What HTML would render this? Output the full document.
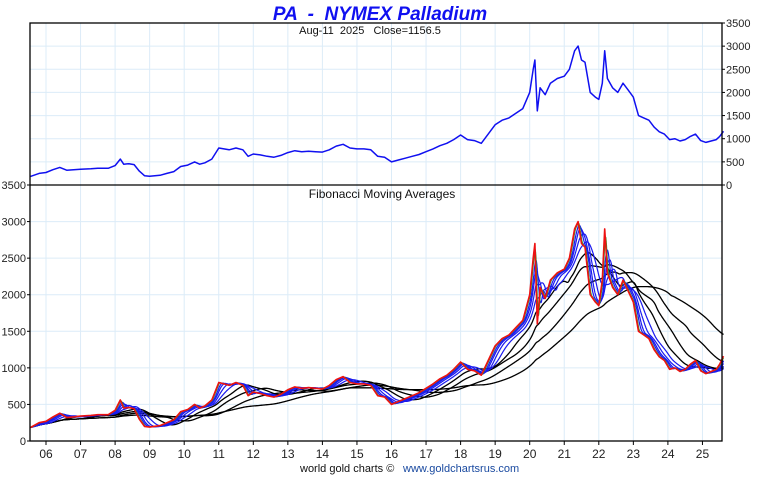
<!DOCTYPE html>
<html><head><meta charset="utf-8"><style>
body{margin:0;background:#fff;width:760px;height:475px;overflow:hidden;font-family:"Liberation Sans",sans-serif}
text{white-space:pre}
</style></head><body>
<svg id="c" width="760" height="475" xmlns="http://www.w3.org/2000/svg" font-family="Liberation Sans, sans-serif"></svg>
<script>
const dates=[2005.55,2005.8,2006.0,2006.2,2006.4,2006.6,2006.8,2007.0,2007.3,2007.5,2007.8,2008.0,2008.15,2008.25,2008.4,2008.55,2008.7,2008.85,2009.0,2009.3,2009.5,2009.7,2009.9,2010.1,2010.3,2010.45,2010.6,2010.8,2011.0,2011.15,2011.3,2011.5,2011.7,2011.85,2012.0,2012.2,2012.4,2012.6,2012.8,2013.0,2013.2,2013.4,2013.6,2013.8,2014.0,2014.2,2014.4,2014.6,2014.8,2015.0,2015.2,2015.4,2015.6,2015.8,2016.0,2016.2,2016.4,2016.6,2016.8,2017.0,2017.2,2017.4,2017.6,2017.8,2018.0,2018.2,2018.4,2018.6,2018.8,2019.0,2019.2,2019.4,2019.6,2019.8,2020.0,2020.1,2020.15,2020.22,2020.3,2020.45,2020.6,2020.8,2021.0,2021.15,2021.3,2021.4,2021.5,2021.6,2021.75,2021.9,2022.0,2022.1,2022.17,2022.25,2022.4,2022.55,2022.7,2022.85,2023.0,2023.15,2023.3,2023.45,2023.6,2023.75,2023.9,2024.05,2024.2,2024.35,2024.5,2024.65,2024.8,2024.95,2025.1,2025.25,2025.4,2025.5,2025.61];
const prices=[185,250,270,330,380,320,330,340,350,360,360,420,560,450,460,440,300,200,190,210,250,290,400,430,500,450,480,560,800,780,760,800,760,620,670,650,620,600,640,700,740,720,730,720,710,760,840,880,800,780,780,760,620,600,500,540,580,620,660,720,780,850,900,980,1080,980,960,900,1100,1300,1400,1450,1550,1650,2000,2500,2700,1600,2100,1950,2200,2300,2350,2500,2900,3000,2700,2650,2000,1900,1850,2200,2900,2300,2100,2000,2200,2050,1900,1500,1450,1400,1250,1150,1100,980,1000,950,980,1050,1100,960,920,950,980,1050,1160];
const yearLabels=["06","07","08","09","10","11","12","13","14","15","16","17","18","19","20","21","22","23","24","25"];
const yTicks=[0,500,1000,1500,2000,2500,3000,3500];
const fibBlue=[34,55,89,144];
const fibBlack=[233,377,610,987];

const NS="http://www.w3.org/2000/svg",svg=document.getElementById('c');
const L=30,R=722,T1=23,B1=185,T2=185,B2=441;
const X=y=>46+(y-2006)*34.55;
const Y1=v=>B1-v*(B1-T1)/3500;
const Y2=v=>B2-v*(B2-T2)/3500;
function el(t,a,txt){const e=document.createElementNS(NS,t);for(const k in a)e.setAttribute(k,a[k]);if(txt!==undefined)e.textContent=txt;svg.appendChild(e);return e;}
yTicks.forEach(v=>{
 if(v>0&&v<3500){let g=el('line',{x1:L,x2:R,y1:Y1(v),y2:Y1(v),stroke:'#dcecf8'});}
 if(v>0){let g=el('line',{x1:L,x2:R,y1:Y2(v),y2:Y2(v),stroke:'#dcecf8'});}
});
yearLabels.forEach((lb,i)=>{
 const x=X(2006+i);
 let g=el('line',{x1:x,x2:x,y1:T1,y2:B2,stroke:'#dcecf8'});
 
 
 let t=el('line',{x1:x,x2:x,y1:B2,y2:B2+4,stroke:'#000'});
 
 
 let tx=el('text',{x:x,y:458,'font-size':12,'text-anchor':'middle',fill:'#222'},lb);
 
 
});
yTicks.forEach(v=>{
 let t=el('text',{x:726,y:Y1(v)+4,'font-size':11,fill:'#222'},String(v));
 
 
 el('line',{x1:R,x2:R+3,y1:Y1(v),y2:Y1(v),stroke:'#000'});
 let t2=el('text',{x:26,y:Y2(v)+4,'font-size':11,'text-anchor':'end',fill:'#222'},String(v));
 
 
 el('line',{x1:L-3,x2:L,y1:Y2(v),y2:Y2(v),stroke:'#000'});
});
const days=[];
for(let d=dates[0];d<=dates[dates.length-1]+1e-9;d+=1/252){
 let j=0;while(j<dates.length-2&&dates[j+1]<d)j++;
 const f=(d-dates[j])/(dates[j+1]-dates[j]);
 days.push([d,prices[j]+(prices[j+1]-prices[j])*Math.min(1,Math.max(0,f))]);
}
function ma(n){const o=[];let s=0;for(let i=0;i<days.length;i++){s+=days[i][1];if(i>=n)s-=days[i-n][1];o.push([days[i][0],s/Math.min(i+1,n)]);}return o;}
function path(pts,Y){return pts.map((p,i)=>(i?'L':'M')+X(p[0]).toFixed(1)+' '+Y(p[1]).toFixed(1)).join('');}
function line(pts,Y,col,w,name){let p=el('path',{d:path(pts,Y),fill:'none',stroke:col,'stroke-width':w,'stroke-linejoin':'round'});}
const raw=dates.map((d,i)=>[d,prices[i]]);
line(raw,Y1,'#1010f0',1.5,'price-line-top');
fibBlack.forEach(n=>line(ma(n),Y2,'#000',1.3,'ma-'+n));
fibBlue.forEach(n=>line(ma(n),Y2,'#1a1aee',1.2,'ma-'+n));
line(ma(13),Y2,'#2a9a2a',1,'ma-13');
line(raw,Y2,'#ee1111',1.6,'price-line-bottom');
el('rect',{x:L,y:T1,width:R-L,height:B2-T1,fill:'none',stroke:'#000','stroke-width':1.3});
el('line',{x1:L,x2:R,y1:B1,y2:B1,stroke:'#000','stroke-width':1.3});
let a=el('text',{x:380,y:20,'font-size':19,'font-weight':'bold','font-style':'italic','text-anchor':'middle',fill:'#1010f0'},'PA  -  NYMEX Palladium');
a=el('text',{x:370,y:34,'font-size':11,'text-anchor':'middle',fill:'#111'},'Aug-11  2025   Close=1156.5');
a=el('text',{x:382,y:198,'font-size':12,'text-anchor':'middle',fill:'#111'},'Fibonacci Moving Averages');
a=el('text',{x:300,y:472,'font-size':11,fill:'#111'},'world gold charts © ');
a=el('text',{x:403,y:472,'font-size':11,fill:'#1a4aa0'},'www.goldchartsrus.com');
</script>
</body></html>
